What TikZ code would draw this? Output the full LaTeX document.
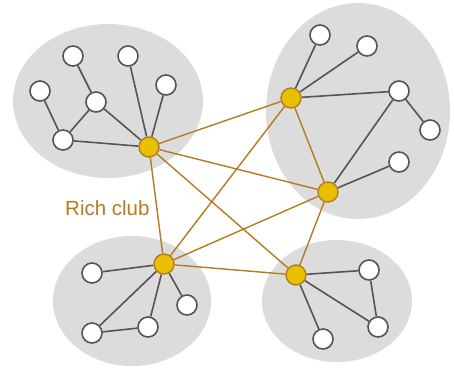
\documentclass[tikz,border=0pt]{standalone}
\usepackage{fontspec}
\setmainfont{Liberation Sans}
\definecolor{clubgray}{HTML}{DCDCDC}
\definecolor{richline}{HTML}{B57B1F}
\definecolor{richfill}{HTML}{E9C000}
\definecolor{edgegray}{HTML}{555555}
\pgfdeclarelayer{bg}
\pgfsetlayers{bg,main}
\begin{document}
\begin{tikzpicture}[x=1pt,y=-1pt,
  wnode/.style={circle,draw=edgegray,fill=white,line width=1.6pt,minimum size=20pt,inner sep=0pt},
  ynode/.style={circle,draw=richline,fill=richfill,line width=1.4pt,minimum size=20pt,inner sep=0pt},
  gedge/.style={draw=edgegray,line width=1.6pt},
  redge/.style={draw=richline,line width=1.4pt},
  club/.style={fill=clubgray}]
\useasboundingbox (0,0) rectangle (454,368);
% rich club nodes
\node[ynode] (A) at (149,147) {};
\node[ynode] (B) at (291,98) {};
\node[ynode] (C) at (328,192) {};
\node[ynode] (D) at (164,264) {};
\node[ynode] (E) at (296,275) {};
% top-left cluster
\node[wnode] (a1) at (73,56) {};
\node[wnode] (a2) at (128,56) {};
\node[wnode] (a3) at (40,91) {};
\node[wnode] (a4) at (166,85) {};
\node[wnode] (a5) at (96,102) {};
\node[wnode] (a6) at (63,140) {};
% top-right cluster
\node[wnode] (b1) at (320,35) {};
\node[wnode] (b2) at (367,46) {};
\node[wnode] (b3) at (399,91) {};
\node[wnode] (b4) at (430,130) {};
\node[wnode] (b5) at (399,162) {};
% bottom-left cluster
\node[wnode] (d1) at (92,273) {};
\node[wnode] (d2) at (187,305) {};
\node[wnode] (d3) at (148,327) {};
\node[wnode] (d4) at (92,333) {};
% bottom-right cluster
\node[wnode] (e1) at (369,270) {};
\node[wnode] (e2) at (378,327) {};
\node[wnode] (e3) at (323,339) {};
\begin{pgfonlayer}{bg}
\fill[club] (108,101) ellipse [x radius=95, y radius=77];
\fill[club] (358,111) ellipse [x radius=92, y radius=108];
\fill[club] (132,301) ellipse [x radius=79, y radius=65];
\fill[club] (337,301) ellipse [x radius=75, y radius=61];
\path[gedge] (a1) -- (a5) (a3) -- (a6) (a6) -- (a5) (a5) -- (A) (a6) -- (A) (a2) -- (A) (a4) -- (A);
\path[gedge] (B) -- (b1) (B) -- (b2) (B) -- (b3) (b3) -- (b4) (b3) -- (C) (C) -- (b5);
\path[gedge] (D) -- (d1) (D) -- (d4) (D) -- (d3) (D) -- (d2) (d4) -- (d3);
\path[gedge] (E) -- (e1) (E) -- (e2) (E) -- (e3) (e1) -- (e2);
\path[redge] (A) -- (B) (A) -- (C) (A) -- (D) (A) -- (E) (B) -- (C) (B) -- (D) (C) -- (D) (C) -- (E) (D) -- (E);
\end{pgfonlayer}
\node[text=richline,font=\fontsize{20.5}{23}\selectfont,anchor=base west,inner sep=0pt] (label) at (65,215) {Rich club};
\end{tikzpicture}
\end{document}
